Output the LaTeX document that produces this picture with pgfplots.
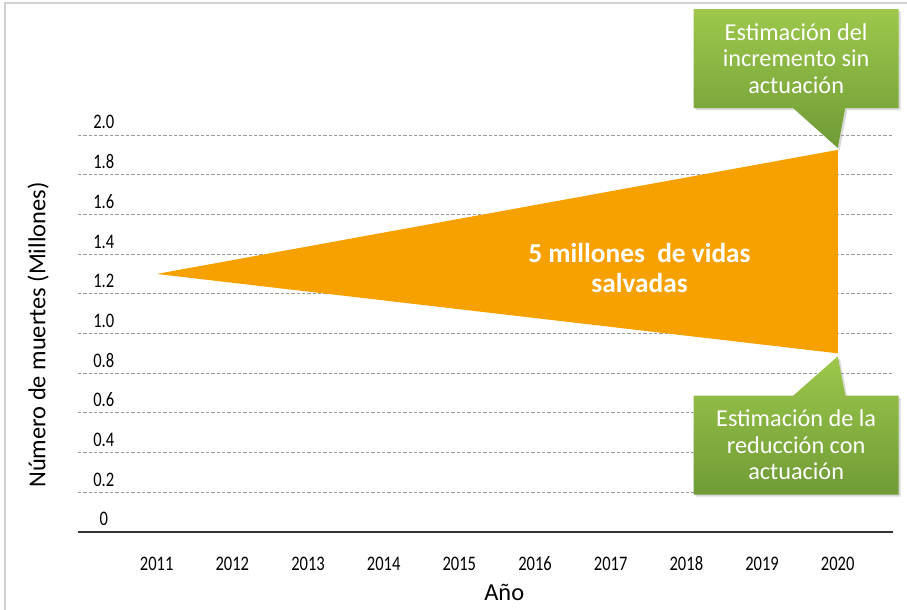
\documentclass[border=0pt]{standalone}
\usepackage{fontspec}
\setmainfont{Carlito}
\newfontfamily\condensed[FakeStretch=0.8]{Carlito}
\usepackage{pgfplots}
\pgfplotsset{compat=1.18}
\usetikzlibrary{shapes.callouts, shadows}

\definecolor{tri}{HTML}{F7A100}
\definecolor{gtop}{HTML}{9DC84C}
\definecolor{gbot}{HTML}{6F9B36}
\definecolor{gridc}{HTML}{9A9A9A}

\begin{document}
\begin{tikzpicture}
  \useasboundingbox (0,0) rectangle (680.25pt,457.5pt);
  % frame of the original picture
  \draw[black!18, line width=1.5pt] (3.75pt,0) -- (3.75pt,455.25pt) -- (680.25pt,455.25pt);

  \begin{axis}[
      at={(58.5pt,58.5pt)}, anchor=south west,
      scale only axis,
      width=611.25pt, height=297.75pt,
      xmin=2009.96, xmax=2020.73,
      ymin=0, ymax=2,
      xtick={2011,2012,...,2020},
      xticklabels={2011,2012,2013,2014,2015,2016,2017,2018,2019,2020},
      ytick={0,0.2,...,2.01},
      yticklabels={0,0.2,0.4,0.6,0.8,1.0,1.2,1.4,1.6,1.8,2.0},
      axis lines=left,
      axis line style={-},
      y axis line style={draw=none},
      x axis line style={draw=black!80, line width=1.6pt},
      major tick length=0pt,
      ymajorgrids,
      grid style={gridc, line width=0.7pt, dash pattern=on 2.5pt off 1.5pt},
      tick label style={font=\condensed\fontsize{15.5}{17}\selectfont, text=black},
      xticklabel style={anchor=base, yshift=-29.25pt},
      yticklabel style={anchor=base, xshift=19.3pt, yshift=4.5pt},
      xlabel={Año},
      ylabel={Número de muertes (Millones)},
      label style={font=\fontsize{18.3}{21}\selectfont, text=black},
      xlabel style={at={(axis description cs:0.523,-0.151)}, anchor=center},
      ylabel style={at={(axis description cs:-0.049,0.496)}, anchor=center},
      clip=false,
    ]
    \addplot[fill=tri, draw=none] coordinates {(2011,1.30) (2020,1.925) (2020,0.90)};

    \node[text=white, font=\bfseries\fontsize{20.5}{22.5}\selectfont, align=center]
      at (axis cs:2017.38,1.33) {5 millones\ \ de vidas\\salvadas};

    \node[rectangle callout, callout absolute pointer={(axis cs:2020,1.935)},
      callout pointer width=39pt,
      top color=gtop, bottom color=gbot, draw=none,
      drop shadow={shadow xshift=1.5pt, shadow yshift=-1.5pt, opacity=0.3},
      minimum width=153.75pt, minimum height=74.25pt, inner sep=0pt,
      text=white, align=center, font=\fontsize{18.2}{19.9}\selectfont]
      at (axis cs:2019.45,2.385) {Estimación del\\incremento sin\\actuación};

    \node[rectangle callout, callout absolute pointer={(axis cs:2020,0.885)},
      callout pointer width=39pt,
      top color=gtop, bottom color=gbot, draw=none,
      drop shadow={shadow xshift=1.5pt, shadow yshift=-1.5pt, opacity=0.3},
      minimum width=153.75pt, minimum height=74.25pt, inner sep=0pt,
      text=white, align=center, font=\fontsize{18.2}{19.9}\selectfont]
      at (axis cs:2019.45,0.438) {Estimación de la\\reducción con\\actuación};
  \end{axis}
\end{tikzpicture}
\end{document}
